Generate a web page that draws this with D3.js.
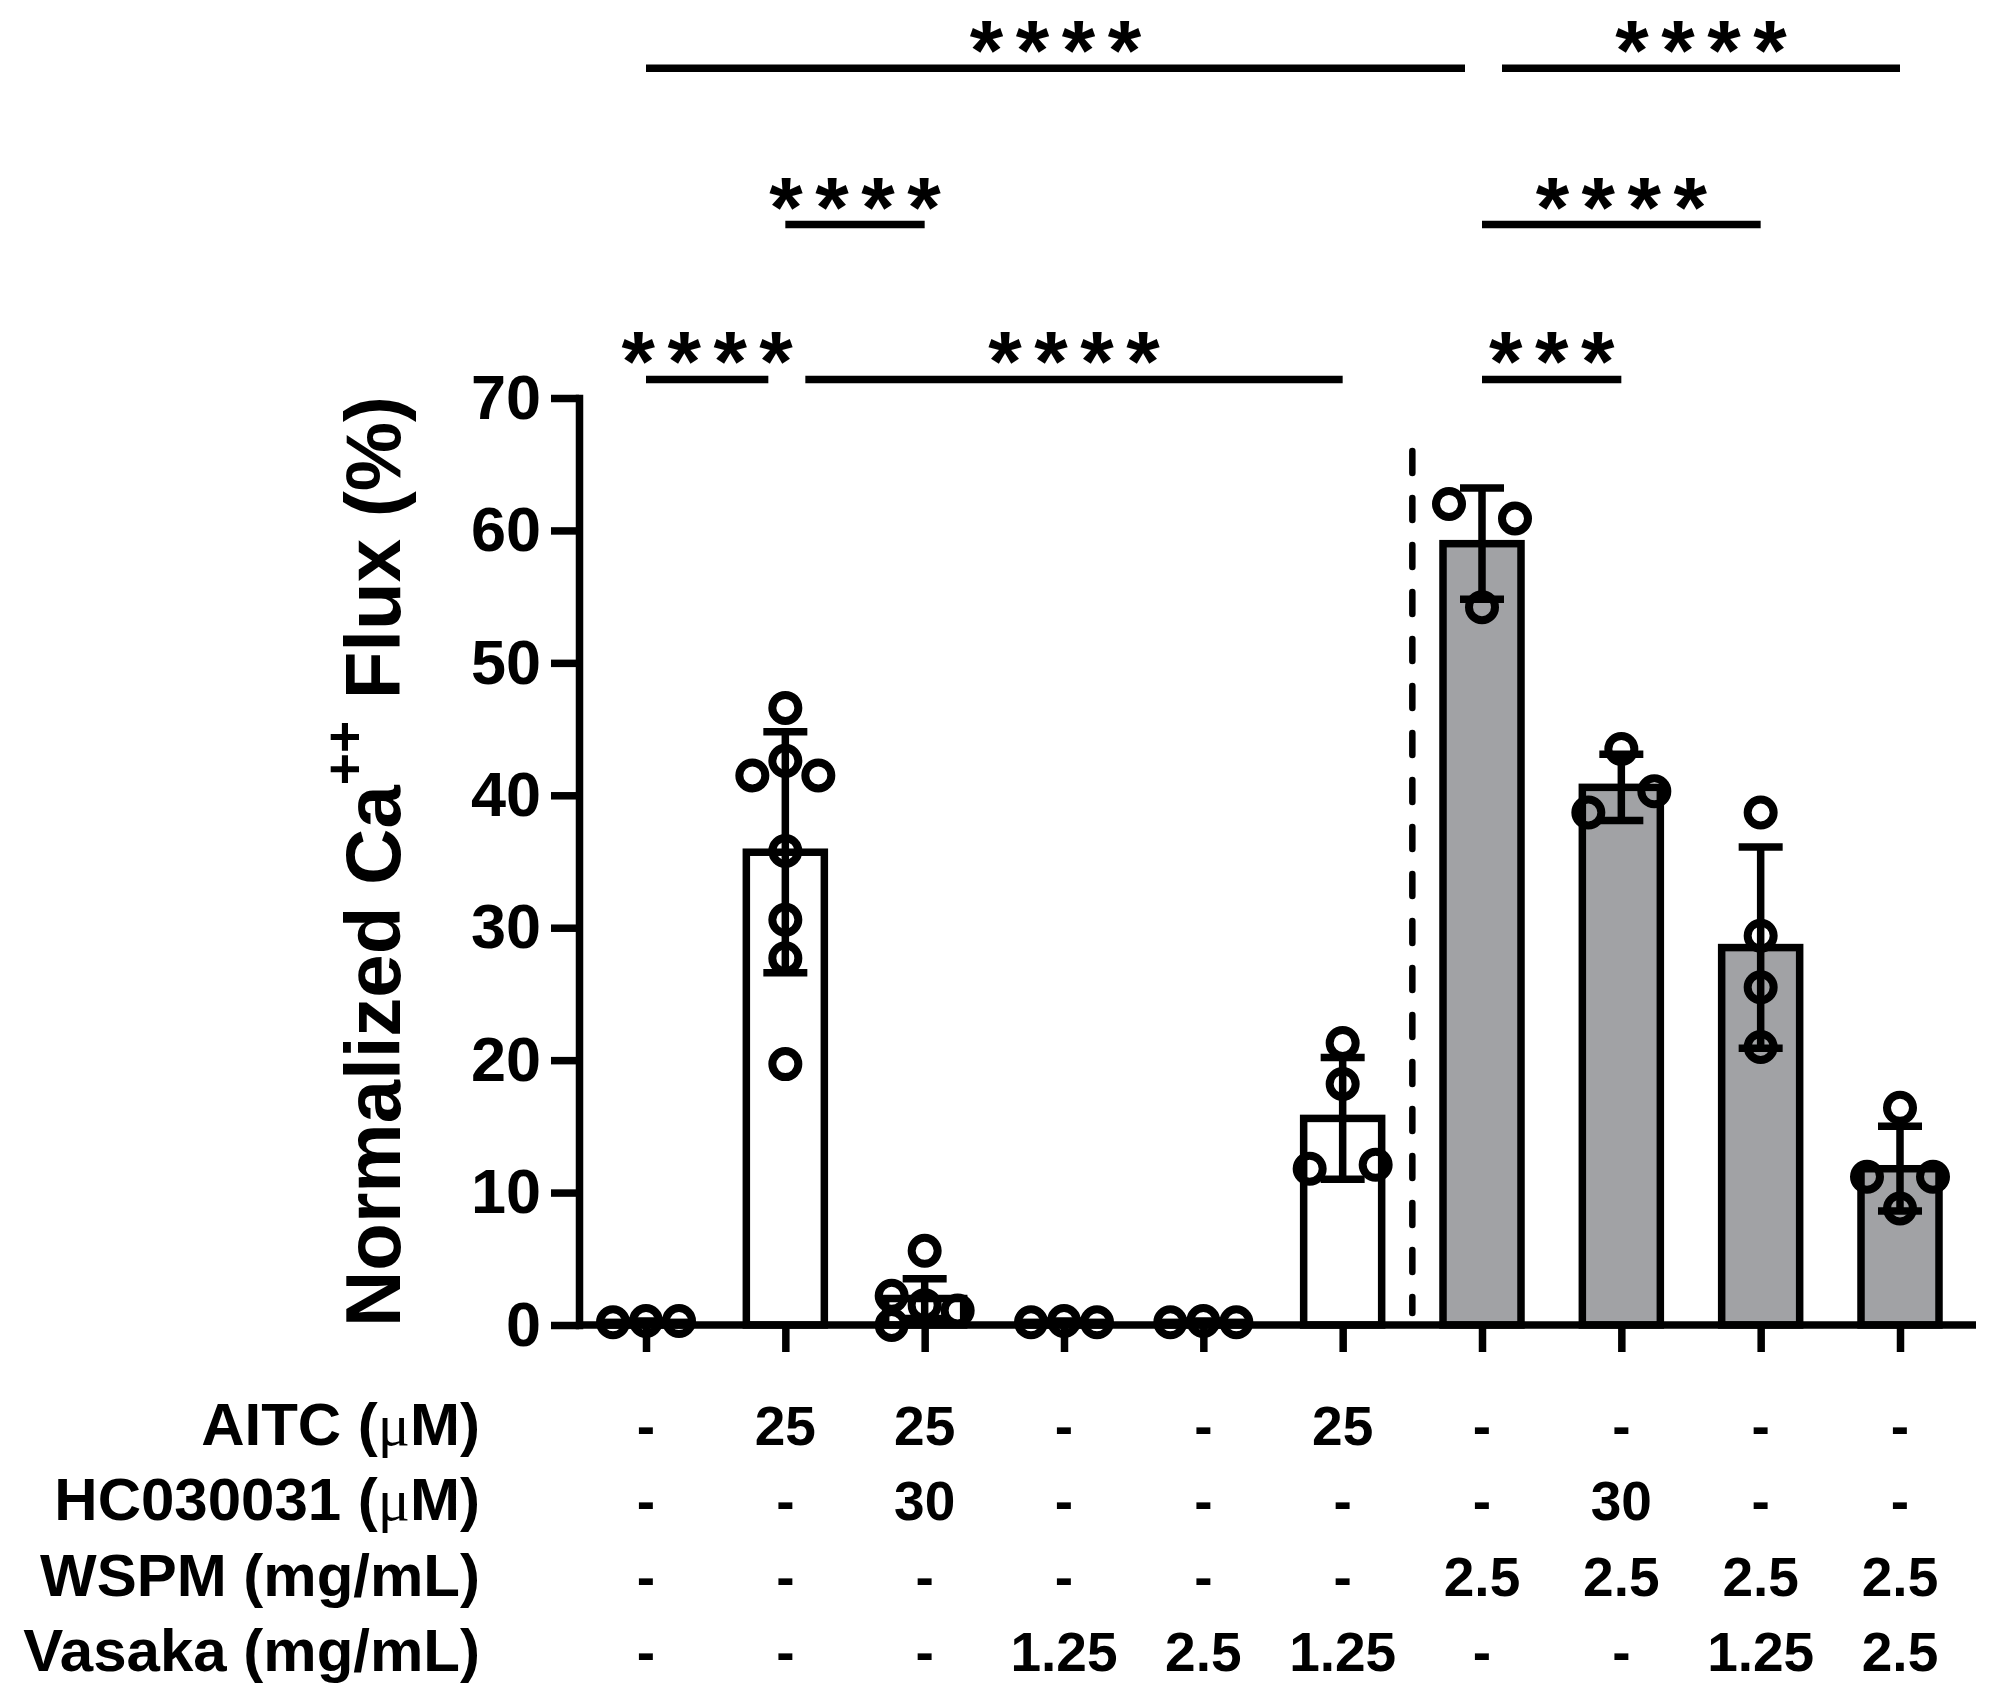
<!DOCTYPE html>
<html>
<head>
<meta charset="utf-8">
<script src="https://cdn.jsdelivr.net/npm/d3@7"></script>
<style>
    body { margin: 0; background: #fff; }
</style>
</head>
<body>
<div id="chart"></div>
<script>
// ---- data ----
const categories = [
    "Vehicle", "AITC", "AITC + HC030031", "Vasaka 1.25", "Vasaka 2.5",
    "AITC + Vasaka 1.25", "WSPM", "WSPM + HC030031", "WSPM + Vasaka 1.25", "WSPM + Vasaka 2.5"
];
const means = [0.2, 35.7, 2.0, 0.2, 0.2, 15.6, 59.0, 40.6, 28.5, 11.8];
const sds = [0.1, 9.1, 1.5, 0.1, 0.1, 4.6, 4.2, 2.5, 7.6, 3.2];

// individual replicates, and the column slot (-1 left, 0 centre, 1 right) each one sits in
const points = [
    [0.2, 0.3, 0.3],
    [46.6, 42.6, 41.5, 41.5, 35.8, 30.6, 27.7, 19.7],
    [5.6, 2.2, 1.5, 1.1, 0.0],
    [0.2, 0.3, 0.2],
    [0.2, 0.3, 0.2],
    [21.3, 18.2, 11.8, 12.1],
    [62.0, 60.9, 54.2],
    [43.5, 38.7, 40.3],
    [38.7, 29.4, 25.5, 21.0],
    [16.4, 11.2, 11.2, 8.8]
];
const slots = [
    [-1, 0, 1],
    [0, 0, -1, 1, 0, 0, 0, 0],
    [0, -1, 0, 1, -1],
    [-1, 0, 1],
    [-1, 0, 1],
    [0, 0, -1, 1],
    [-1, 1, 0],
    [0, -1, 1],
    [0, 0, 0, 0],
    [0, -1, 1, 0]
];

const yTicks = [0, 10, 20, 30, 40, 50, 60, 70];

// treatment table under the axis
const tableLabels = ["AITC (μM)", "HC030031 (μM)", "WSPM (mg/mL)", "Vasaka (mg/mL)"];
const aitc = ["-", "25", "25", "-", "-", "25", "-", "-", "-", "-"];
const hc = ["-", "-", "30", "-", "-", "-", "-", "30", "-", "-"];
const wspm = ["-", "-", "-", "-", "-", "-", "2.5", "2.5", "2.5", "2.5"];
const vasaka = ["-", "-", "-", "1.25", "2.5", "1.25", "-", "-", "1.25", "2.5"];
const tableValues = [aitc, hc, wspm, vasaka];

// significance brackets: category indices, label, tier (0 = lowest)
const brackets = [
    { from: 0, to: 1, label: "****", tier: 0 },
    { from: 1, to: 5, label: "****", tier: 0 },
    { from: 6, to: 7, label: "***", tier: 0 },
    { from: 1, to: 2, label: "****", tier: 1 },
    { from: 6, to: 8, label: "****", tier: 1 },
    { from: 0, to: 6, label: "****", tier: 2 },
    { from: 6, to: 9, label: "****", tier: 2 }
];
const tierLevels = [71.4, 83.1, 94.9]; // in y units, above the axis top

// ---- layout ----
const W = 1993, H = 1698;
const font = "'Liberation Sans', Arial, Helvetica, sans-serif";
const lw = 7.5;
const gray = "#a1a2a5";
const axisLeftX = 579, axisRightX = 1976;
const barW = 78, capW = 44, r = 13;
const starSize = 86, starSpacing = 12.5;

const svg = d3.select("#chart")
    .append("svg")
    .attr("width", W)
    .attr("height", H)
    .attr("viewBox", `0 0 ${W} ${H}`);

const y = d3.scaleLinear().domain([0, 70]).range([1325, 398]);
const x = d3.scalePoint().domain(categories).range([646, 1900]);
const jitter = d3.scaleLinear().domain([-1, 1]).range([-33, 33]);

// bars
svg.append("g")
    .attr("class", "bars")
    .selectAll("rect")
    .data(categories)
    .join("rect")
    .attr("x", d => x(d) - barW / 2)
    .attr("y", (d, i) => y(means[i]))
    .attr("width", barW)
    .attr("height", (d, i) => y(0) - y(means[i]))
    .attr("fill", (d, i) => wspm[i] !== "-" ? gray : "#fff")
    .attr("stroke", "#000")
    .attr("stroke-width", lw);

// dashed divider between the two experiment sets
const divX = (x(categories[5]) + x(categories[6])) / 2;
svg.append("line")
    .attr("x1", divX).attr("x2", divX)
    .attr("y1", y(66)).attr("y2", y(0.9))
    .attr("stroke", "#000")
    .attr("stroke-width", 6.5)
    .attr("stroke-linecap", "round")
    .attr("stroke-dasharray", "22 25");

// error bars (mean +/- SD)
const err = svg.append("g").attr("class", "errorbars");
categories.forEach((c, i) => {
    const hi = means[i] + sds[i];
    const lo = Math.max(0, means[i] - sds[i]);
    const cx = x(c);
    err.append("line")
        .attr("x1", cx).attr("x2", cx)
        .attr("y1", y(lo)).attr("y2", y(hi))
        .attr("stroke", "#000").attr("stroke-width", lw);
    [hi, lo].forEach(v => {
        err.append("line")
            .attr("x1", cx - capW / 2).attr("x2", cx + capW / 2)
            .attr("y1", y(v)).attr("y2", y(v))
            .attr("stroke", "#000").attr("stroke-width", lw);
    });
});

// replicate points
const flat = [];
points.forEach((arr, i) => arr.forEach((v, j) => flat.push({ c: categories[i], v: v, s: slots[i][j] })));
svg.append("g")
    .attr("class", "points")
    .selectAll("circle")
    .data(flat)
    .join("circle")
    .attr("cx", d => x(d.c) + jitter(d.s))
    .attr("cy", d => y(d.v))
    .attr("r", r)
    .attr("fill", "none")
    .attr("stroke", "#000")
    .attr("stroke-width", 8);

// y axis
const yAxis = svg.append("g")
    .attr("transform", `translate(${axisLeftX},0)`)
    .call(d3.axisLeft(y).tickValues(yTicks).tickSize(28).tickSizeOuter(0).tickPadding(10));
yAxis.select(".domain").attr("stroke-width", lw).attr("stroke-linecap", "square");
yAxis.selectAll(".tick line").attr("stroke-width", lw);
yAxis.selectAll(".tick text")
    .attr("font-family", font)
    .attr("font-weight", "bold")
    .attr("font-size", 63)
    .attr("fill", "#000");

// x axis baseline + ticks
svg.append("line")
    .attr("x1", axisLeftX).attr("x2", axisRightX)
    .attr("y1", y(0)).attr("y2", y(0))
    .attr("stroke", "#000").attr("stroke-width", lw);
const xAxis = svg.append("g")
    .attr("transform", `translate(0,${y(0)})`)
    .call(d3.axisBottom(x).tickSize(27).tickFormat(""));
xAxis.select(".domain").remove();
xAxis.selectAll(".tick line").attr("stroke-width", lw);

// y axis title with superscript
const yTitle = svg.append("text")
    .attr("transform", `translate(400,${(y(0) + y(70)) / 2}) rotate(-90)`)
    .attr("text-anchor", "middle")
    .attr("font-family", font)
    .attr("font-weight", "bold")
    .attr("font-size", 78);
yTitle.append("tspan").text("Normalized Ca");
yTitle.append("tspan").attr("font-size", 55).attr("dy", -37).text("++");
yTitle.append("tspan").attr("dy", 37).text(" Flux (%)");

// significance brackets
const bracketG = svg.append("g").attr("class", "brackets");
brackets.forEach(b => {
    const sameTier = brackets.filter(o => o !== b && o.tier === b.tier);
    const trimL = sameTier.some(o => o.to === b.from) ? 20 : 0;
    const trimR = sameTier.some(o => o.from === b.to) ? 17 : 0;
    const x1 = x(categories[b.from]) + trimL;
    const x2 = x(categories[b.to]) - trimR;
    const ly = y(tierLevels[b.tier]);
    bracketG.append("line")
        .attr("x1", x1).attr("x2", x2)
        .attr("y1", ly).attr("y2", ly)
        .attr("stroke", "#000").attr("stroke-width", lw);
    bracketG.append("text")
        .attr("x", (x1 + x2) / 2 + starSpacing / 2)
        .attr("y", ly + 12)
        .attr("text-anchor", "middle")
        .attr("font-family", font)
        .attr("font-weight", "bold")
        .attr("font-size", starSize)
        .attr("letter-spacing", starSpacing)
        .text(b.label);
});

// treatment table
const table = svg.append("g").attr("class", "table");
const rowY = d3.scalePoint().domain(tableLabels).range([1445, 1671]);
tableLabels.forEach((lab, ri) => {
    const t = table.append("text")
        .attr("x", 480)
        .attr("y", rowY(lab))
        .attr("text-anchor", "end")
        .attr("font-family", font)
        .attr("font-weight", "bold")
        .attr("font-size", 60);
    const parts = lab.split("μ");
    t.append("tspan").text(parts[0]);
    if (parts.length > 1) {
        t.append("tspan")
            .attr("font-family", "'Liberation Serif', 'DejaVu Serif', serif")
            .attr("font-weight", "normal")
            .text("μ");
        t.append("tspan").text(parts[1]);
    }
    table.selectAll(null)
        .data(tableValues[ri])
        .join("text")
        .attr("x", (d, i) => x(categories[i]))
        .attr("y", rowY(lab))
        .attr("text-anchor", "middle")
        .attr("font-family", font)
        .attr("font-weight", "bold")
        .attr("font-size", 55)
        .text(d => d);
});
</script>
</body>
</html>
